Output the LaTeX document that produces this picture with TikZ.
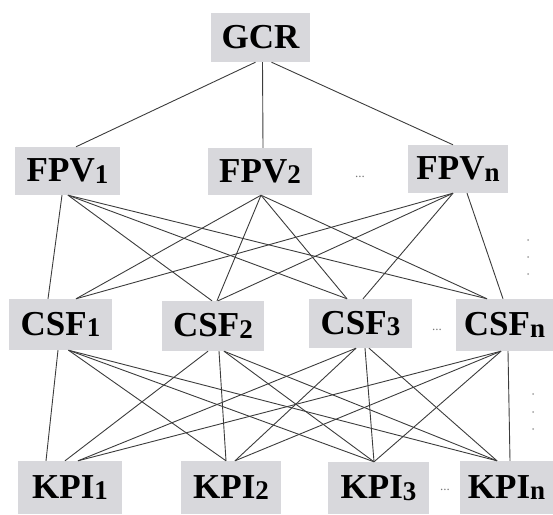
\documentclass[tikz,border=0pt]{standalone}
\usepackage{fontspec}
\setmainfont{Liberation Serif}
\definecolor{boxgray}{RGB}{216,216,220}
\definecolor{linegray}{RGB}{60,60,60}
\definecolor{dotgray}{RGB}{120,120,120}
\newcommand{\lbl}[2]{#1\raisebox{-1.5pt}{\fontsize{27}{27}\selectfont #2}}
\begin{document}
\begin{tikzpicture}[x=1pt,y=-1pt,
  box/.style={fill=boxgray, inner sep=0pt, font=\fontsize{35}{35}\selectfont\bfseries, text=black},
  link/.style={draw=linegray, line width=0.9pt},
  hdots/.style={font=\fontsize{13}{13}\selectfont, text=dotgray, inner sep=0pt},
  vdot/.style={circle, fill=dotgray!70, inner sep=0pt, minimum size=2pt}]
\useasboundingbox (0,0) rectangle (553,514);
% nodes
\node[box, minimum width=99pt, minimum height=49pt] (gcr) at (260.5,37.5) {GCR};
\node[box, minimum width=105pt, minimum height=48pt] (fpv1) at (67.5,171) {\lbl{FPV}{1}};
\node[box, minimum width=104pt, minimum height=47pt] (fpv2) at (260,171.5) {\lbl{FPV}{2}};
\node[box, minimum width=100pt, minimum height=48pt] (fpvn) at (458,169) {\lbl{FPV}{n}};
\node[box, minimum width=103pt, minimum height=51pt] (csf1) at (60.5,324.5) {\lbl{CSF}{1}};
\node[box, minimum width=102pt, minimum height=50pt] (csf2) at (213,326) {\lbl{CSF}{2}};
\node[box, minimum width=103pt, minimum height=49pt] (csf3) at (360.5,323.5) {\lbl{CSF}{3}};
\node[box, minimum width=97pt, minimum height=52pt] (csfn) at (504.5,325) {\lbl{CSF}{n}};
\node[box, minimum width=104pt, minimum height=53pt] (kpi1) at (70,487.5) {\lbl{KPI}{1}};
\node[box, minimum width=100pt, minimum height=53pt] (kpi2) at (231,487.5) {\lbl{KPI}{2}};
\node[box, minimum width=101pt, minimum height=52pt] (kpi3) at (378.5,488) {\lbl{KPI}{3}};
\node[box, minimum width=93pt, minimum height=53pt] (kpin) at (506.5,487.5) {\lbl{KPI}{n}};
% horizontal ellipses
\node[hdots] (d1) at (360,177) {...};
\node[hdots] (d2) at (437,330) {...};
\node[hdots] (d3) at (445,490) {...};
% vertical ellipses
\node[vdot] (v1) at (528,240) {};
\node[vdot] (v2) at (528,257) {};
\node[vdot] (v3) at (528,274) {};
\node[vdot] (v4) at (533,394) {};
\node[vdot] (v5) at (533,412) {};
\node[vdot] (v6) at (533,429) {};
% GCR -> FPV
\draw[link] ([xshift=-5pt]gcr.south) -- ([xshift=8.5pt]fpv1.north);
\draw[link] ([xshift=2pt]gcr.south) -- ([xshift=3pt]fpv2.north);
\draw[link] ([xshift=11pt]gcr.south) -- ([xshift=-5pt]fpvn.north);
% FPV -> CSF
\draw[link] ([xshift=-5.5pt]fpv1.south) -- ([xshift=-12.5pt]csf1.north);
\draw[link] ([xshift=0.5pt]fpv1.south) -- ([xshift=-1pt]csf2.north);
\draw[link] ([xshift=0.5pt]fpv1.south) -- ([xshift=-13.5pt]csf3.north);
\draw[link] ([xshift=0.5pt]fpv1.south) -- ([xshift=-17.5pt]csfn.north);
\draw[link] ([xshift=1pt]fpv2.south) -- ([xshift=15.5pt]csf1.north);
\draw[link] ([xshift=1pt]fpv2.south) -- ([xshift=4pt]csf2.north);
\draw[link] ([xshift=1pt]fpv2.south) -- ([xshift=-13.5pt]csf3.north);
\draw[link] ([xshift=1pt]fpv2.south) -- ([xshift=-17.5pt]csfn.north);
\draw[link] ([xshift=-5pt]fpvn.south) -- ([xshift=15.5pt]csf1.north);
\draw[link] ([xshift=-5pt]fpvn.south) -- ([xshift=5pt]csf2.north);
\draw[link] ([xshift=-5pt]fpvn.south) -- ([xshift=2.5pt]csf3.north);
\draw[link] ([xshift=9pt]fpvn.south) -- ([xshift=-1.5pt]csfn.north);
% CSF -> KPI
\draw[link] ([xshift=-2.5pt]csf1.south) -- ([xshift=-24pt]kpi1.north);
\draw[link] ([xshift=8pt]csf1.south) -- ([xshift=-5pt]kpi2.north);
\draw[link] ([xshift=8pt]csf1.south) -- ([xshift=-4.5pt]kpi3.north);
\draw[link] ([xshift=8pt]csf1.south) -- ([xshift=-9.5pt]kpin.north);
\draw[link] ([xshift=-5pt]csf2.south) -- ([xshift=-5pt]kpi1.north);
\draw[link] ([xshift=6pt]csf2.south) -- ([xshift=-5pt]kpi2.north);
\draw[link] ([xshift=11pt]csf2.south) -- ([xshift=-4.5pt]kpi3.north);
\draw[link] ([xshift=11pt]csf2.south) -- ([xshift=-9.5pt]kpin.north);
\draw[link] ([xshift=-4.5pt]csf3.south) -- ([xshift=8pt]kpi1.north);
\draw[link] ([xshift=-4.5pt]csf3.south) -- ([xshift=4pt]kpi2.north);
\draw[link] ([xshift=4.5pt]csf3.south) -- ([xshift=-4.5pt]kpi3.north);
\draw[link] ([xshift=8.5pt]csf3.south) -- ([xshift=-9.5pt]kpin.north);
\draw[link] ([xshift=-3.5pt]csfn.south) -- ([xshift=8pt]kpi1.north);
\draw[link] ([xshift=-3.5pt]csfn.south) -- ([xshift=4pt]kpi2.north);
\draw[link] ([xshift=-3.5pt]csfn.south) -- ([xshift=-4.5pt]kpi3.north);
\draw[link] ([xshift=3.5pt]csfn.south) -- ([xshift=3.5pt]kpin.north);
\end{tikzpicture}
\end{document}
